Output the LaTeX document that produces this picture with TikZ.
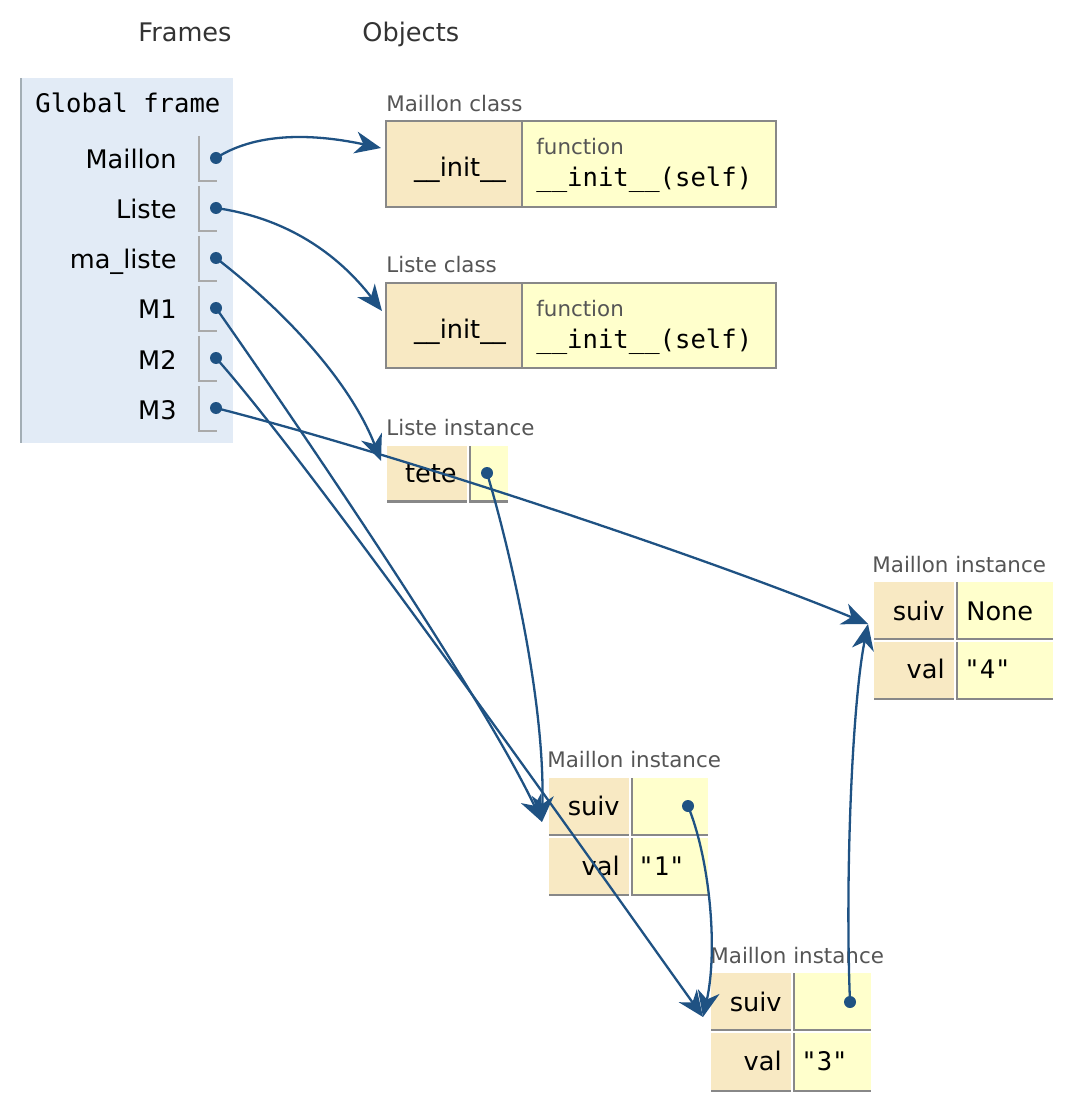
\documentclass[tikz,border=0pt]{standalone}
\usepackage{fontspec}
\setmainfont{DejaVu Sans}
\setmonofont{DejaVu Sans Mono}
\usetikzlibrary{arrows.meta}

\definecolor{ptrblue}{HTML}{1F5283}
\definecolor{framebg}{HTML}{E2EBF6}
\definecolor{framegrey}{HTML}{A3AEB5}
\definecolor{keybg}{HTML}{F8E9C3}
\definecolor{valbg}{HTML}{FFFFCC}
\definecolor{tblgrey}{HTML}{888888}
\definecolor{slotgrey}{HTML}{AAAAAA}
\definecolor{lblgrey}{HTML}{555555}
\definecolor{headgrey}{HTML}{333333}

\tikzset{
  txt/.style={inner sep=0pt, font=\fontsize{12.8pt}{15pt}\selectfont},
  sml/.style={inner sep=0pt, text=lblgrey, font=\fontsize{10.7pt}{13pt}\selectfont},
  monotxt/.style={inner sep=0pt, font=\ttfamily\fontsize{12.8pt}{15pt}\selectfont},
  slot/.style={draw=slotgrey, line width=1pt},
  tbl/.style={draw=tblgrey, line width=1pt},
  cellline/.style={draw=tblgrey, line width=1.2pt},
  ptr/.style={draw=ptrblue, line width=1.15pt, -{Stealth[length=13pt, width=11pt, inset=4pt]}},
}

\begin{document}
\begin{tikzpicture}[x=0.5pt, y=-0.5pt]
  \useasboundingbox (0,0) rectangle (1070,1112);

  % headings
  \node[txt, text=headgrey, anchor=base] (hFrames) at (185,42) {Frames};
  \node[txt, text=headgrey, anchor=base west] (hObjects) at (362,42) {Objects};

  % global frame
  \fill[framebg] (21,78) rectangle (233,443);
  \draw[framegrey, line width=1pt] (21,78) -- (21,443);
  \node[monotxt, anchor=base west] (gTitle) at (35,113) {Global frame};

  \node[txt, anchor=base east] (vMaillon) at (177,169) {Maillon};
  \node[txt, anchor=base east] (vListe) at (177,219) {Liste};
  \node[txt, anchor=base east] (vMaListe) at (177,269) {ma\_liste};
  \node[txt, anchor=base east] (vM1) at (177,319) {M1};
  \node[txt, anchor=base east] (vM2) at (177,369) {M2};
  \node[txt, anchor=base east] (vM3) at (177,419) {M3};

  \draw[slot] (199,136) -- (199,181) -- (217,181);
  \draw[slot] (199,186) -- (199,231) -- (217,231);
  \draw[slot] (199,236) -- (199,281) -- (217,281);
  \draw[slot] (199,286) -- (199,331) -- (217,331);
  \draw[slot] (199,336) -- (199,381) -- (217,381);
  \draw[slot] (199,386) -- (199,431) -- (217,431);

  \coordinate (pMaillon) at (216,158);
  \coordinate (pListe) at (216,208);
  \coordinate (pMaListe) at (216,258);
  \coordinate (pM1) at (216,308);
  \coordinate (pM2) at (216,358);
  \coordinate (pM3) at (216,408);

  % Maillon class
  \node[sml, anchor=base west] (lMaillonCls) at (386,112) {Maillon class};
  \draw[tbl, fill=keybg] (386,121) rectangle (522,207);
  \draw[tbl, fill=valbg] (522,121) rectangle (776,207);
  \node[txt, anchor=base] (kMaillonInit) at (460,177) {\_\_init\_\_};
  \node[sml, anchor=base west] (fMaillonInit) at (536,155) {function};
  \node[monotxt, anchor=base west] (sMaillonInit) at (536,187) {\_\_init\_\_(self)};
  \coordinate (mcIn) at (381,148);

  % Liste class
  \node[sml, anchor=base west] (lListeCls) at (386,273) {Liste class};
  \draw[tbl, fill=keybg] (386,283) rectangle (522,368);
  \draw[tbl, fill=valbg] (522,283) rectangle (776,368);
  \node[txt, anchor=base] (kListeInit) at (460,338) {\_\_init\_\_};
  \node[sml, anchor=base west] (fListeInit) at (536,317) {function};
  \node[monotxt, anchor=base west] (sListeInit) at (536,349) {\_\_init\_\_(self)};
  \coordinate (lcIn) at (382,311);

  % Liste instance
  \node[sml, anchor=base west] (lListeInst) at (386,435) {Liste instance};
  \fill[keybg] (387,446) rectangle (467,502);
  \fill[valbg] (469,446) rectangle (508,502);
  \draw[cellline] (387,501.5) -- (467,501.5) (469,501.5) -- (508,501.5) (469.8,446) -- (469.8,502);
  \node[txt, anchor=base east] (kTete) at (457,482) {tete};
  \coordinate (dTete) at (487,473);
  \coordinate (liIn) at (381,461);

  % Maillon instance "4"
  \node[sml, anchor=base west] (lM4) at (872,572) {Maillon instance};
  \fill[keybg] (874,582) rectangle (954,639);
  \fill[valbg] (956,582) rectangle (1053,639);
  \fill[keybg] (874,642) rectangle (954,699);
  \fill[valbg] (956,642) rectangle (1053,699);
  \draw[cellline] (874,639) -- (954,639) (956,639) -- (1053,639) (956.8,582) -- (956.8,640);
  \draw[cellline] (874,699) -- (954,699) (956,699) -- (1053,699) (956.8,642) -- (956.8,700);
  \node[txt, anchor=base east] (kM4suiv) at (945,620) {suiv};
  \node[txt, anchor=base west] (vM4suiv) at (966,620) {None};
  \node[txt, anchor=base east] (kM4val) at (945,678) {val};
  \node[monotxt, anchor=base west] (vM4val) at (964,678) {"4"};
  \coordinate (m4In) at (868,624);

  % Maillon instance "1"
  \node[sml, anchor=base west] (lM1) at (547,767) {Maillon instance};
  \fill[keybg] (549,778) rectangle (629,835);
  \fill[valbg] (631,778) rectangle (708,835);
  \fill[keybg] (549,838) rectangle (629,895);
  \fill[valbg] (631,838) rectangle (708,895);
  \draw[cellline] (549,835) -- (629,835) (631,835) -- (708,835) (631.8,778) -- (631.8,836);
  \draw[cellline] (549,895) -- (629,895) (631,895) -- (708,895) (631.8,838) -- (631.8,896);
  \node[txt, anchor=base east] (kM1suiv) at (620,815) {suiv};
  \node[txt, anchor=base east] (kM1val) at (620,875) {val};
  \node[monotxt, anchor=base west] (vM1val) at (638,875) {"1"};
  \coordinate (dM1suiv) at (688,806);
  \coordinate (m1In) at (542,822);

  % Maillon instance "3"
  \node[sml, anchor=base west] (lM3) at (710,963) {Maillon instance};
  \fill[keybg] (711,973) rectangle (791,1030);
  \fill[valbg] (793,973) rectangle (871,1030);
  \fill[keybg] (711,1033) rectangle (791,1091);
  \fill[valbg] (793,1033) rectangle (871,1091);
  \draw[cellline] (711,1030) -- (791,1030) (793,1030) -- (871,1030) (793.8,973) -- (793.8,1031);
  \draw[cellline] (711,1091) -- (791,1091) (793,1091) -- (871,1091) (793.8,1033) -- (793.8,1092);
  \node[txt, anchor=base east] (kM3suiv) at (782,1011) {suiv};
  \node[txt, anchor=base east] (kM3val) at (782,1070) {val};
  \node[monotxt, anchor=base west] (vM3val) at (801,1070) {"3"};
  \coordinate (dM3suiv) at (850,1002);
  \coordinate (m3In) at (703,1017);

  % pointers
  \draw[ptr] (pMaillon) .. controls +(44,-28) and +(-61,-13) .. (mcIn);
  \draw[ptr] (pListe) .. controls +(70,10) and +(-45,-58) .. (lcIn);
  \draw[ptr] (pMaListe) .. controls +(80,62) and +(-28,-72) .. (liIn);
  \draw[ptr] (pM1) .. controls +(55,78) and +(-62,-132) .. (m1In);
  \draw[ptr] (pM2) .. controls +(100,112) and +(-86,-120) .. (m3In);
  \draw[ptr] (pM3) .. controls +(184,47) and +(-160,-66) .. (m4In);
  \draw[ptr] (dTete) .. controls +(23,77) and +(3,-122) .. (m1In);
  \draw[ptr] (dM1suiv) .. controls +(22,54) and +(15,-67) .. (m3In);
  \draw[ptr] (dM3suiv) .. controls +(-5,-122) and +(-16,80) .. (m4In);

  \foreach \p in {pMaillon,pListe,pMaListe,pM1,pM2,pM3,dTete,dM1suiv,dM3suiv}
    \fill[ptrblue] (\p) circle [radius=3pt];
\end{tikzpicture}
\end{document}
